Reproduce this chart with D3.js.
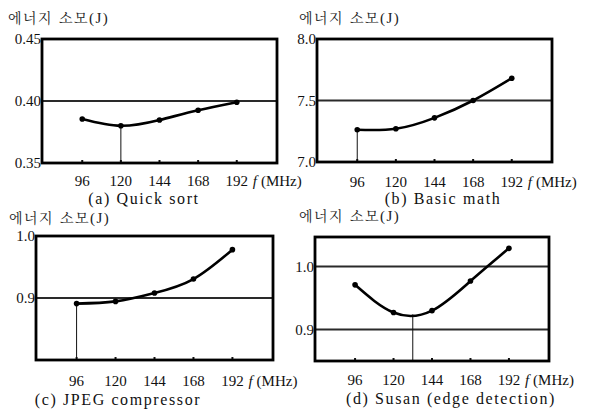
<!DOCTYPE html>
<html lang="ko">
<head>
<meta charset="UTF-8">
<title>에너지 소모</title>
<script src="https://d3js.org/d3.v7.min.js"></script>
<style>
  body { margin: 0; background: #fff; }
  svg { display: block; }
</style>
</head>
<body>
<script>
// data
const freqs = [96, 120, 144, 168, 192];
const quickSort = [0.3855, 0.380, 0.3847, 0.3925, 0.399];
const basicMath = [7.262, 7.270, 7.359, 7.500, 7.681];
const jpegComp = [0.891, 0.8945, 0.908, 0.9306, 0.978];
const susanEdge = [0.971, 0.927, 0.930, 0.977, 1.029];
const titles = ["(a) Quick sort", "(b) Basic math", "(c) JPEG compressor", "(d) Susan (edge detection)"];
const yDomains = [[0.35, 0.45], [7.0, 8.0], [0.8, 1.0], [0.85, 1.047]];
const yTicks = [[0.35, 0.40, 0.45], [7.0, 7.5, 8.0], [0.9, 1.0], [0.9, 1.0]];
const yTickLabels = [["0.35", "0.40", "0.45"], ["7.0", "7.5", "8.0"], ["0.9", "1.0"], ["0.9", "1.0"]];
const gridValues = [[0.40], [7.5], [0.9], [0.9, 1.0]];
const dropX = [120, 96, 96, 132];
const dropY = [0.380, 7.262, 0.891, 0.924];
const xDomain = [71, 217];
const yLabel = "에너지 소모";

const series = [quickSort, basicMath, jpegComp, susanEdge];

const serif = "'Liberation Serif'";
const krSerif = "'Noto Serif CJK KR'";

// layout of the four boxes
const boxes = [
  {x0: 42, x1: 277, y0: 39, y1: 163, labX: 8, labY: 23, tickY: 186, titleX: 144, titleY: 204},
  {x0: 317, x1: 552, y0: 39, y1: 162, labX: 299, labY: 23, tickY: 187, titleX: 443, titleY: 204},
  {x0: 36, x1: 273, y0: 236, y1: 360, labX: 9, labY: 223, tickY: 386, titleX: 118, titleY: 405},
  {x0: 315, x1: 549, y0: 237, y1: 361, labX: 299, labY: 221, tickY: 385, titleX: 451, titleY: 404}
];

const width = 598, height = 416;
const svg = d3.select("body").append("svg")
  .attr("width", width)
  .attr("height", height);

series.forEach((vals, i) => {
  const b = boxes[i];
  const x = d3.scaleLinear().domain(xDomain).range([b.x0, b.x1]);
  const y = d3.scaleLinear().domain(yDomains[i]).range([b.y1, b.y0]);
  const g = svg.append("g");

  // grid lines
  g.selectAll("line.grid")
    .data(gridValues[i])
    .join("line")
    .attr("class", "grid")
    .attr("x1", b.x0).attr("x2", b.x1)
    .attr("y1", d => y(d)).attr("y2", d => y(d))
    .attr("stroke", "#2a2a2a").attr("stroke-width", 2);

  // bottom ticks (inside)
  g.selectAll("line.xt")
    .data(freqs)
    .join("line")
    .attr("class", "xt")
    .attr("x1", d => x(d)).attr("x2", d => x(d))
    .attr("y1", b.y1).attr("y2", b.y1 - 3)
    .attr("stroke", "#111").attr("stroke-width", 2);

  // drop line
  g.append("line")
    .attr("x1", x(dropX[i])).attr("x2", x(dropX[i]))
    .attr("y1", y(dropY[i])).attr("y2", b.y1)
    .attr("stroke", "#111").attr("stroke-width", 1);

  // frame
  g.append("rect")
    .attr("x", b.x0).attr("y", b.y0)
    .attr("width", b.x1 - b.x0).attr("height", b.y1 - b.y0)
    .attr("fill", "none").attr("stroke", "#000").attr("stroke-width", 2.8);

  // curve
  const pts = freqs.map((f, k) => [f, vals[k]]);
  g.append("path")
    .datum(pts)
    .attr("d", d3.line().x(d => x(d[0])).y(d => y(d[1])).curve(d3.curveNatural))
    .attr("fill", "none").attr("stroke", "#000").attr("stroke-width", 2.6);

  g.selectAll("circle")
    .data(pts)
    .join("circle")
    .attr("cx", d => x(d[0])).attr("cy", d => y(d[1]))
    .attr("r", 2.8).attr("fill", "#000");

  // y tick labels
  g.selectAll("text.yt")
    .data(yTicks[i])
    .join("text")
    .attr("class", "yt")
    .attr("x", b.x0 - 1)
    .attr("y", d => y(d))
    .attr("dy", "0.35em")
    .attr("text-anchor", "end")
    .style("font-family", serif).style("font-size", "15px").style("fill", "#111")
    .text((d, k) => yTickLabels[i][k]);

  // x tick labels
  g.selectAll("text.xl")
    .data(freqs)
    .join("text")
    .attr("class", "xl")
    .attr("x", d => x(d))
    .attr("y", b.tickY)
    .attr("text-anchor", "middle")
    .style("font-family", serif).style("font-size", "15px").style("fill", "#111")
    .text(d => d);

  const unit = g.append("text")
    .attr("x", x(192) + 16)
    .attr("y", b.tickY)
    .style("font-family", serif).style("font-size", "15px").style("fill", "#111");
  unit.append("tspan").style("font-style", "italic").text("f");
  unit.append("tspan").attr("dx", 4).text("(MHz)");

  g.append("text")
    .attr("x", b.titleX).attr("y", b.titleY)
    .attr("text-anchor", "middle")
    .style("font-family", serif).style("font-size", "16px")
    .style("letter-spacing", "1.6px").style("fill", "#111")
    .text(titles[i]);

  const lab = g.append("text")
    .attr("x", b.labX).attr("y", b.labY)
    .style("font-family", krSerif).style("font-size", "14px")
    .style("letter-spacing", "1.5px").style("fill", "#222");
  lab.append("tspan").text(yLabel);
  lab.append("tspan").style("font-family", serif).style("font-size", "15px").text("(J)");
});
</script>
</body>
</html>
